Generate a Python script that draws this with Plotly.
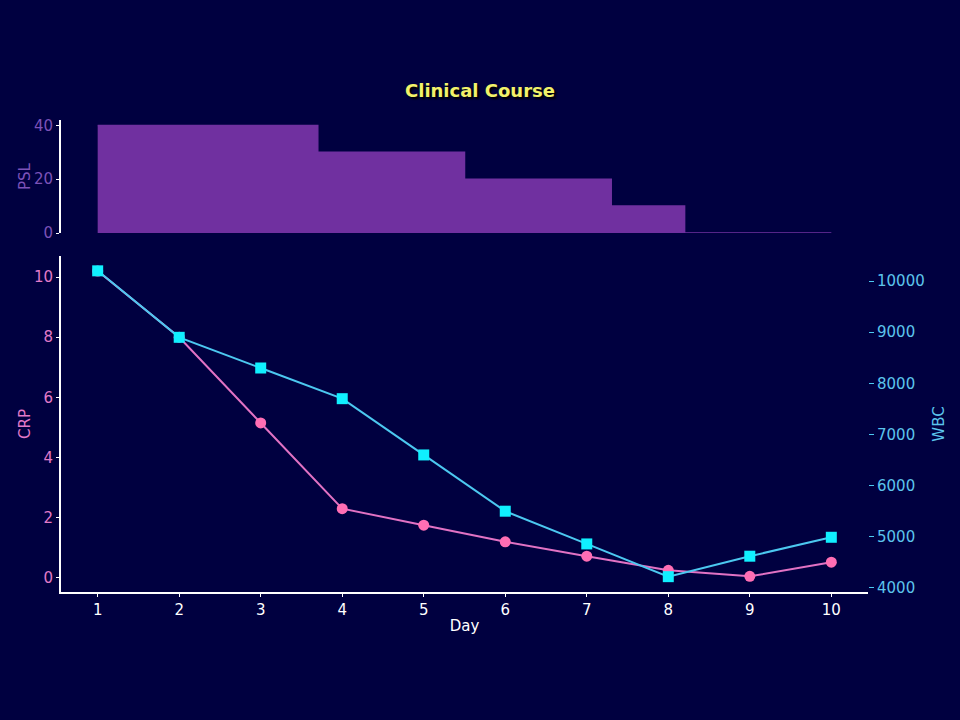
import plotly.graph_objects as go

# dados do gráfico
days = [1, 2, 3, 4, 5, 6, 7, 8, 9, 10]
crp = [10.2, 8.0, 5.15, 2.3, 1.75, 1.2, 0.72, 0.25, 0.05, 0.52]
wbc = [10200, 8900, 8300, 7700, 6600, 5500, 4860, 4220, 4620, 4990]

# dose de PSL (passo, índice 0..10)
psl_steps = [0, 1, 2, 3, 4, 5, 6, 7, 8, 9, 10]
psl_dose = [40, 40, 40, 30, 30, 20, 20, 10, 0, 0, 0]

bg = "#000040"
pink_line = "#e272c4"
pink_marker = "#ff6eb4"
cyan_line = "#4cc8f0"
cyan_marker = "#10f0ff"
purple = "#7030a0"
font_main = "DejaVu Sans"

fig = go.Figure()

# painel superior - PSL
fig.add_trace(go.Scatter(
    x=psl_steps, y=psl_dose,
    mode="lines", line=dict(shape="hv", color=purple, width=1.5),
    fill="tozeroy", fillcolor=purple,
    xaxis="x2", yaxis="y3", showlegend=False
))

# CRP
fig.add_trace(go.Scatter(
    x=days, y=crp, mode="lines+markers",
    line=dict(color=pink_line, width=2),
    marker=dict(symbol="circle", size=11, color=pink_marker),
    xaxis="x", yaxis="y", showlegend=False
))

# WBC
fig.add_trace(go.Scatter(
    x=days, y=wbc, mode="lines+markers",
    line=dict(color=cyan_line, width=2),
    marker=dict(symbol="square", size=11, color=cyan_marker),
    xaxis="x", yaxis="y2", showlegend=False
))

dom_x = [61 / 960, 868 / 960]

fig.update_layout(
    width=960, height=720,
    paper_bgcolor=bg, plot_bgcolor=bg,
    margin=dict(l=0, r=0, t=0, b=0),
    font=dict(family=font_main, size=15, color="white"),
    title=dict(
        text="<b>Clinical Course</b>",
        x=0.5, xref="paper", xanchor="center",
        y=1 - 91 / 720, yref="paper", yanchor="middle",
        font=dict(family=font_main, size=18, color="#f2f26a",
                  shadow="2px 2px 2px #000000"),
    ),
    xaxis=dict(
        domain=dom_x, anchor="y", range=[0.55, 10.45],
        tickvals=days, showgrid=False, zeroline=False,
        showline=True, linecolor="white", linewidth=2,
        ticks="outside", ticklen=3, tickcolor="white",
        tickfont=dict(color="white", size=15),
        title=dict(text="Day", font=dict(color="white", size=15), standoff=2),
        automargin=False,
    ),
    yaxis=dict(
        domain=[1 - 592 / 720, 1 - 256 / 720], anchor="x",
        range=[-0.47, 10.7], tickvals=[0, 2, 4, 6, 8, 10],
        showgrid=False, zeroline=False,
        showline=True, linecolor="white", linewidth=2,
        ticks="outside", ticklen=3, tickcolor="white",
        tickfont=dict(color="#e27ac8", size=15),
        title=dict(text="CRP", font=dict(color="#e27ac8", size=15), standoff=0),
        automargin=False,
    ),
    yaxis2=dict(
        overlaying="y", side="right", anchor="x",
        range=[3920, 10490], tickvals=[4000, 5000, 6000, 7000, 8000, 9000, 10000],
        tickformat="d",
        showgrid=False, zeroline=False, showline=False,
        ticks="outside", ticklen=5, tickcolor=cyan_line,
        tickfont=dict(color="#5cc4ec", size=15),
        title=dict(text="WBC", font=dict(color="#5cc4ec", size=15), standoff=9),
        automargin=False,
    ),
    xaxis2=dict(
        domain=dom_x, anchor="y3", range=[-0.5, 10.5],
        visible=False, showgrid=False, zeroline=False,
    ),
    yaxis3=dict(
        domain=[1 - 233 / 720, 1 - 120 / 720], anchor="x2",
        range=[0, 42], tickvals=[0, 20, 40],
        showgrid=False, zeroline=False,
        showline=True, linecolor="white", linewidth=2,
        ticks="outside", ticklen=3, tickcolor="white",
        tickfont=dict(color="#7c52b8", size=15),
        title=dict(text="PSL", font=dict(color="#7c52b8", size=15), standoff=0),
        automargin=False,
    ),
)

fig.write_html(
    "out.html",
    config={"displayModeBar": False},
    post_script="document.body.style.margin='0';document.body.style.background='#000040';",
)
